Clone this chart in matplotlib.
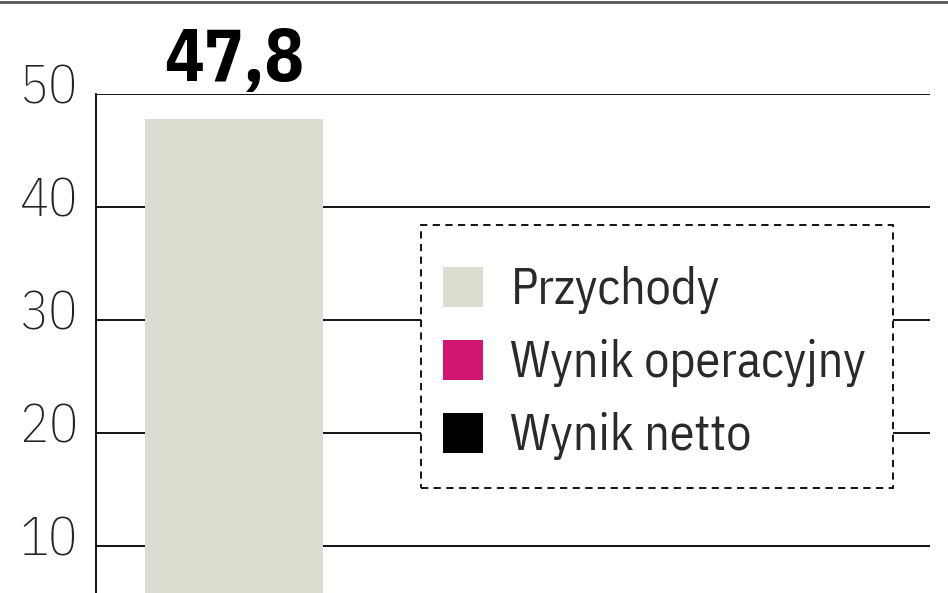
import matplotlib.pyplot as plt
from matplotlib.patches import Patch, Rectangle
from matplotlib.lines import Line2D
from matplotlib.transforms import ScaledTranslation

# dane
series = ["Przychody", "Wynik operacyjny", "Wynik netto"]
colors = ["#dddcd0", "#d1166f", "#000000"]
przychody = [47.8]
value_labels = ["47,8"]
yticks = [10, 20, 30, 40, 50]

FONT = ["IBM Plex Sans Condensed", "DejaVu Sans"]

fig = plt.figure(figsize=(9.48, 5.93), dpi=100)
W, H = 948, 593
ax = fig.add_axes([96 / W, 0, (930 - 96) / W, (H - 94) / H])

# słupek przychodów
xpos = list(range(len(przychody)))
ax.bar(xpos, przychody, width=1.0, color=colors[0], zorder=3)
for x, v, t in zip(xpos, przychody, value_labels):
    ax.text(x, v + 2.0, t, ha="center", va="bottom", fontsize=53,
            fontweight="bold", family=FONT, zorder=5)

ax.set_xlim(-0.775, 3.91)
ax.set_ylim(5.84, 50)

# siatka
for y in yticks:
    ax.axhline(y, color="black", lw=1.3, zorder=1)

for s in ["top", "right", "bottom"]:
    ax.spines[s].set_visible(False)
ax.spines["left"].set_linewidth(1.3)
ax.set_xticks([])
ax.set_yticks(yticks)
ax.tick_params(axis="y", length=0, pad=13, labelsize=39)
offset = ScaledTranslation(0, 7 / 72, fig.dpi_scale_trans)
for lab in ax.get_yticklabels():
    lab.set_family(FONT)
    lab.set_fontweight("light")
    lab.set_color("#222222")
    lab.set_transform(lab.get_transform() + offset)

# ramka legendy (przerywana)
box = Rectangle((421 / W, 1 - 488 / H), (893 - 421) / W, (488 - 225) / H,
                transform=fig.transFigure, facecolor="white", edgecolor="black",
                linestyle=(0, (4, 3)), linewidth=1.3, zorder=5, clip_on=False)
ax.add_patch(box)

# legenda
handles = [Patch(facecolor=c, edgecolor="none") for c in colors]
leg = ax.legend(handles, series, loc="upper left",
                bbox_to_anchor=(443 / W, 1 - 266 / H),
                bbox_transform=fig.transFigure,
                prop={"family": FONT, "size": 36},
                handlelength=0.8, handleheight=0.85, handletextpad=0.55,
                labelspacing=0.5, borderpad=0, borderaxespad=0,
                frameon=False)
leg.set_zorder(6)
for t in leg.get_texts():
    t.set_color("#2a2a2a")

# górna ramka
fig.add_artist(Line2D([0, 1], [1 - 2 / H, 1 - 2 / H], transform=fig.transFigure,
                      color="#555555", lw=2))

fig.savefig("out.png", dpi=100)
